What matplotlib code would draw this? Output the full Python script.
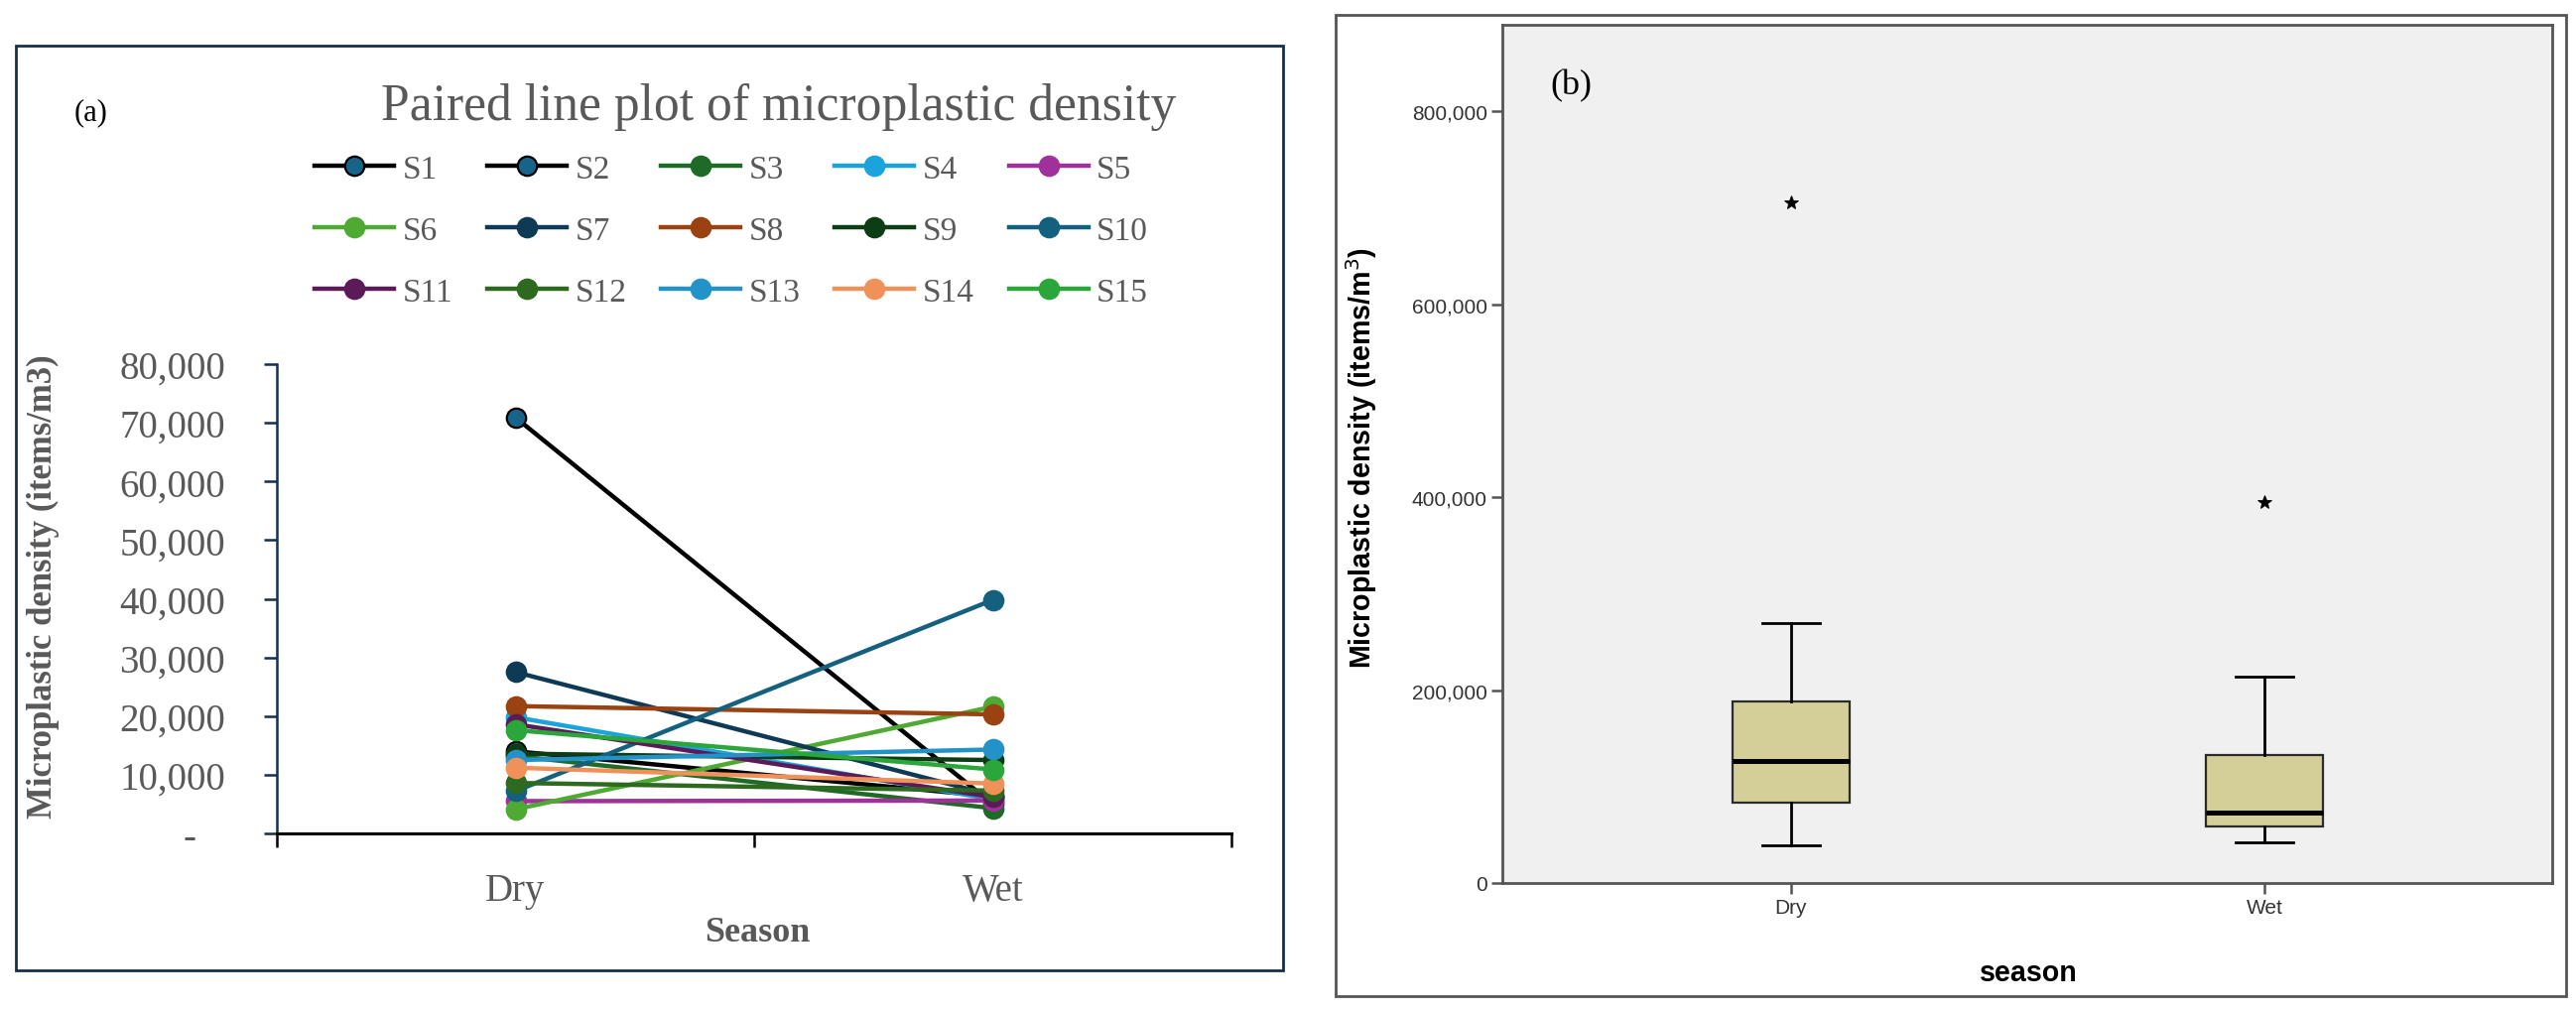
import matplotlib
matplotlib.use("Agg")
import matplotlib.pyplot as plt
import matplotlib.patches as mpatches
from matplotlib.ticker import FuncFormatter, FixedLocator

W, H = 2596, 1020

# ---- panel (a): paired values per site ----
SITES = ["S1", "S2", "S3", "S4", "S5", "S6", "S7", "S8",
         "S9", "S10", "S11", "S12", "S13", "S14", "S15"]
SEASONS = ["Dry", "Wet"]
DRY = [70900, 14000, 13200, 19800, 5500, 4100, 27500, 21700,
       13600, 7200, 18600, 8600, 12500, 11200, 17600]
WET = [5000, 6300, 4300, 5800, 5600, 21600, 6500, 20300,
       12500, 39800, 6200, 7300, 14300, 8500, 10900]
LINE_COLORS = ["#000000", "#000000", "#1e6b27", "#1aa3dd", "#a0309a",
               "#4eaa33", "#0e3a55", "#9a4212", "#0c3d14", "#13607f",
               "#5b1b58", "#2d6a1f", "#2392c9", "#f0915a", "#2aa63a"]
MARKER_COLORS = ["#17638a", "#17638a"] + LINE_COLORS[2:]
Y_TICKS_A = [0, 10000, 20000, 30000, 40000, 50000, 60000, 70000, 80000]

# ---- panel (b): box plot summary ----
BOX_MED = [127000, 72700]
BOX_Q1 = [83500, 58600]
BOX_Q3 = [188000, 132700]
BOX_WHISLO = [39000, 41800]
BOX_WHISHI = [270000, 214000]
BOX_OUTLIERS = [[706000], [395000]]
Y_TICKS_B = [0, 200000, 400000, 600000, 800000]

GRAY_TEXT = "#595959"
NAVY = "#15304c"
SERIF = "Liberation Serif"
SANS = "Liberation Sans"


def px_rect(x0, y0, x1, y1):
    """Pixel box (top-left origin) -> figure fraction [l, b, w, h]."""
    return [x0 / W, 1 - y1 / H, (x1 - x0) / W, (y1 - y0) / H]


def add_frame(fig, x0, y0, x1, y1, color, lw):
    l, b, w, h = px_rect(x0, y0, x1, y1)
    fig.add_artist(mpatches.Rectangle((l, b), w, h, transform=fig.transFigure,
                                      fill=False, edgecolor=color, linewidth=lw))


def thousands(v, _pos):
    if v == 0:
        return "-   "
    return f"{int(v):,}"


def plot_paired(fig):
    ax = fig.add_axes(px_rect(279, 368, 1241, 841))
    x = [0, 1]
    handles = []
    for i, site in enumerate(SITES):
        edge = "#000000" if i < 2 else MARKER_COLORS[i]
        line, = ax.plot(x, [DRY[i], WET[i]], color=LINE_COLORS[i], lw=1.6,
                        marker="o", markersize=7, markerfacecolor=MARKER_COLORS[i],
                        markeredgecolor=edge, markeredgewidth=0.8, label=site)
        handles.append(line)

    ax.set_xlim(-0.5, 1.5)
    ax.set_ylim(0, 80000)
    ax.yaxis.set_major_locator(FixedLocator(Y_TICKS_A))
    ax.yaxis.set_major_formatter(FuncFormatter(thousands))
    ax.tick_params(axis="y", direction="out", length=4.7, width=0.9, color=NAVY,
                   labelcolor=GRAY_TEXT, labelsize=14, pad=14)
    for lab in ax.get_yticklabels():
        lab.set_fontfamily(SERIF)

    ax.xaxis.set_major_locator(FixedLocator([-0.5, 0.5, 1.5]))
    ax.xaxis.set_major_formatter(FuncFormatter(lambda v, p: ""))
    ax.xaxis.set_minor_locator(FixedLocator(x))
    ax.set_xticklabels(SEASONS, minor=True)
    ax.tick_params(axis="x", which="major", direction="out", length=5, width=0.9,
                   color="black")
    ax.tick_params(axis="x", which="minor", length=0, pad=14, labelsize=14,
                   labelcolor=GRAY_TEXT)
    for lab in ax.get_xticklabels(minor=True):
        lab.set_fontfamily(SERIF)

    for side in ["top", "right"]:
        ax.spines[side].set_visible(False)
    ax.spines["left"].set_color(NAVY)
    ax.spines["left"].set_linewidth(0.9)
    ax.spines["bottom"].set_color("black")
    ax.spines["bottom"].set_linewidth(1.1)

    ax.set_xlabel("Season", fontfamily=SERIF, fontweight="bold", fontsize=13,
                  color=GRAY_TEXT)
    ax.xaxis.set_label_coords(0.503, -0.175)
    ax.set_ylabel("Microplastic density (items/m3)", fontfamily=SERIF,
                  fontweight="bold", fontsize=12.5, color=GRAY_TEXT)
    ax.yaxis.set_label_coords(-0.228, 0.528)

    order = [r * 5 + c for c in range(5) for r in range(3)]
    fig.legend([handles[k] for k in order], [SITES[k] for k in order],
               ncol=5, loc="upper left", bbox_to_anchor=(317 / W, 1 - 156 / H),
               frameon=False, borderpad=0, borderaxespad=0, handlelength=2.4,
               handletextpad=0.25, columnspacing=1.05, labelspacing=0.95,
               prop={"family": SERIF, "size": 12}, labelcolor=GRAY_TEXT)

    fig.text(785 / W, 1 - 108 / H, "Paired line plot of microplastic density",
             ha="center", va="center", fontfamily=SERIF, fontsize=18.6,
             color=GRAY_TEXT)
    fig.text(75 / W, 1 - 114 / H, "(a)", ha="left", va="center",
             fontfamily=SERIF, fontsize=11, color="black")
    add_frame(fig, 16, 47, 1293, 979, NAVY, 1.0)


def plot_box(fig):
    ax = fig.add_axes(px_rect(1514, 26, 2572, 891))
    ax.set_facecolor("#f0f0f0")
    stats = []
    for i, season in enumerate(SEASONS):
        stats.append({"label": season, "med": BOX_MED[i], "q1": BOX_Q1[i],
                      "q3": BOX_Q3[i], "whislo": BOX_WHISLO[i],
                      "whishi": BOX_WHISHI[i], "fliers": BOX_OUTLIERS[i]})
    ax.bxp(stats, positions=[1, 2], widths=0.248, patch_artist=True,
           boxprops={"facecolor": "#d4cf98", "edgecolor": "#2b2b2b", "linewidth": 0.8},
           medianprops={"color": "black", "linewidth": 1.8},
           whiskerprops={"color": "black", "linewidth": 1.0},
           capprops={"color": "black", "linewidth": 1.0},
           capwidths=0.12,
           flierprops={"marker": "*", "markersize": 5, "markerfacecolor": "black",
                       "markeredgecolor": "black", "markeredgewidth": 0.3})
    ax.set_xlim(0.39, 2.608)
    ax.set_ylim(0, 890000)
    ax.yaxis.set_major_locator(FixedLocator(Y_TICKS_B))
    ax.yaxis.set_major_formatter(FuncFormatter(lambda v, p: f"{int(v):,}"))
    ax.tick_params(axis="both", direction="out", length=4, width=0.9,
                   color="#555555", labelsize=7.5, labelcolor="#333333", pad=1.5)
    for lab in ax.get_yticklabels() + ax.get_xticklabels():
        lab.set_fontfamily(SANS)
    for side in ax.spines:
        ax.spines[side].set_color("#555555")
        ax.spines[side].set_linewidth(1.0)

    ax.set_ylabel("Microplastic density (items/m$^3$)", fontfamily=SANS,
                  fontweight="bold", fontsize=10.3, color="black")
    ax.yaxis.set_label_coords(-0.117, 0.497)
    ax.set_xlabel("season", fontfamily=SANS, fontweight="bold", fontsize=10.3,
                  color="black")
    ax.xaxis.set_label_coords(0.501, -0.088)
    ax.text(0.046, 0.93, "(b)", transform=ax.transAxes, fontfamily=SERIF,
            fontsize=13, color="black", ha="left", va="center")
    add_frame(fig, 1346, 16, 2586, 1005, "#555555", 1.0)


def create_graph():
    fig = plt.figure(figsize=(W / 200, H / 200), dpi=200)
    fig.patch.set_facecolor("white")
    plot_paired(fig)
    plot_box(fig)
    fig.savefig("out.png", dpi=200, facecolor="white")


create_graph()
